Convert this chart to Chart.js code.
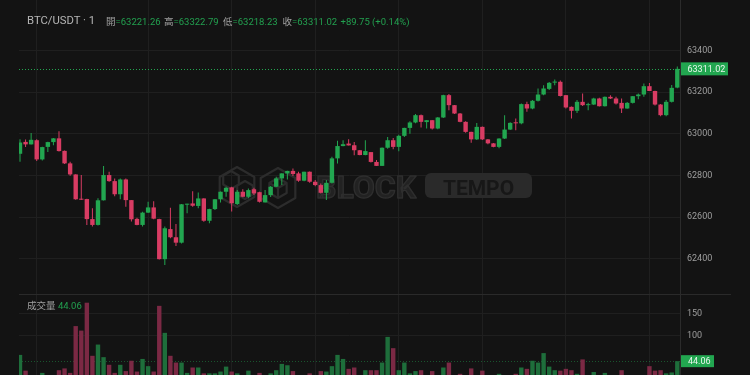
<!DOCTYPE html>
<html><head><meta charset="utf-8">
<script src="https://cdn.jsdelivr.net/npm/chart.js@4/dist/chart.umd.min.js"></script>
<style>
html,body{margin:0;padding:0;background:#131313;}
#wrap{position:relative;width:750px;height:375px;overflow:hidden;background:#131313;font-family:Roboto,"Noto Sans CJK TC",sans-serif;}
canvas{position:absolute;left:0;}
#cp{top:0}
#cv{top:294px}
.t{position:absolute;white-space:nowrap;line-height:14px;}
.g{color:#22a04f}
.l{color:#a0a0a0}
</style></head><body>
<div id="wrap">
<canvas id="cp" width="750" height="294"></canvas>
<canvas id="cv" width="750" height="81"></canvas>
<div class="t" style="left:27px;top:14px;font-size:11.3px;color:#b4b4b4">BTC/USDT · 1</div>
<div class="t" style="left:106px;top:14.5px;font-size:9.5px"><span class="l">開</span><span class="g">=63221.26</span></div>
<div class="t" style="left:164px;top:14.5px;font-size:9.5px"><span class="l">高</span><span class="g">=63322.79</span></div>
<div class="t" style="left:223px;top:14.5px;font-size:9.5px"><span class="l">低</span><span class="g">=63218.23</span></div>
<div class="t" style="left:282.5px;top:14.5px;font-size:9.5px"><span class="l">收</span><span class="g">=63311.02</span></div>
<div class="t g" style="left:340.5px;top:14.5px;font-size:9.5px">+89.75 (+0.14%)</div>
<div class="t" style="left:27px;top:299px;font-size:9.5px"><span class="l">成交量</span> <span class="g">44.06</span></div>
</div>
<script>
const opens  = [62904,62961,62949,62969,62877,62937,62960,62978,62918,62858,62805,62686,62687,62591,62563,62681,62802,62773,62710,62781,62682,62592,62563,62622,62647,62591,62399,62543,62504,62478,62660,62666,62654,62690,62583,62639,62686,62722,62743,62663,62722,62698,62734,62720,62671,62706,62746,62786,62810,62822,62810,62775,62818,62770,62754,62717,62765,62882,62941,62953,62945,62921,62898,62912,62865,62846,62933,62969,62937,62990,63028,63054,63089,63056,63065,63025,63078,63185,63137,63097,63057,63009,62973,63033,62973,62954,62937,62977,63020,63054,63050,63142,63121,63158,63188,63215,63245,63249,63185,63129,63110,63153,63137,63140,63169,63132,63177,63169,63148,63121,63148,63180,63188,63228,63205,63140,63089,63153,63221.26];
const highs  = [62974,62973,63003,62974,62938,62962,62980,63012,62920,62866,62806,62802,62688,62643,62691,62846,62818,62786,62785,62785,62683,62598,62626,62674,62677,62593,62555,62645,62567,62663,62665,62725,62719,62691,62640,62687,62723,62746,62746,62730,62734,62738,62741,62722,62730,62750,62794,62811,62823,62834,62818,62818,62819,62778,62762,62778,62890,62966,62969,62974,62961,62922,62969,62913,62874,62934,62985,62980,62995,63029,63060,63095,63092,63066,63066,63080,63187,63190,63138,63100,63060,63010,63052,63035,62975,62956,62979,63089,63055,63073,63145,63153,63162,63217,63233,63248,63260,63255,63186,63130,63162,63193,63148,63172,63172,63178,63185,63177,63169,63152,63181,63193,63241,63243,63206,63142,63162,63234,63322.79];
const lows   = [62866,62937,62949,62870,62872,62913,62945,62915,62855,62799,62684,62682,62563,62555,62560,62680,62770,62701,62686,62650,62579,62561,62555,62620,62590,62397,62371,62499,62462,62474,62619,62650,62643,62578,62571,62634,62671,62698,62627,62658,62696,62691,62706,62671,62670,62697,62745,62754,62781,62797,62770,62772,62765,62748,62714,62682,62762,62858,62940,62944,62897,62897,62897,62862,62845,62845,62928,62926,62916,62985,63000,63050,63030,63025,63020,63022,63075,63113,63095,63055,63005,62957,62970,62970,62950,62935,62930,62975,63018,63017,63045,63105,63118,63155,63185,63210,63233,63178,63121,63073,63100,63133,63113,63138,63130,63130,63166,63140,63100,63120,63145,63165,63177,63205,63135,63084,63084,63150,63218.23];
const closes = [62958,62949,62971,62877,62936,62960,62978,62917,62858,62805,62686,62684,62591,62563,62681,62802,62773,62710,62781,62682,62590,62563,62622,62647,62593,62399,62547,62504,62478,62662,62664,62655,62690,62583,62639,62686,62722,62741,62667,62722,62698,62730,62714,62674,62706,62746,62786,62810,62822,62807,62775,62818,62770,62754,62717,62765,62882,62941,62950,62944,62921,62898,62917,62865,62846,62933,62969,62937,62990,63028,63054,63089,63057,63065,63025,63078,63185,63137,63097,63057,63009,62973,63033,62973,62954,62937,62977,63020,63052,63050,63142,63121,63158,63188,63217,63244,63250,63181,63126,63110,63153,63137,63140,63169,63132,63177,63169,63145,63121,63148,63180,63188,63228,63205,63140,63089,63153,63220,63311.02];
const volumes = [58,23,8,10,18,9,7,24,28,18,122,112,174,56,81,53,36,18,36,22,45,21,49,33,21,167,107,56,41,41,18,30,30,17,17,17,21,32,21,17,10,23,10,18,9,17,24,38,35,22,10,10,17,10,22,21,33,58,49,27,30,10,24,24,24,41,98,73,24,41,17,22,24,10,22,10,30,41,10,16,10,28,10,23,10,9,16,10,12,16,30,27,45,41,62,32,24,23,27,24,16,48,10,20,10,18,10,9,24,10,9,11,12,33,23,24,17,19,44.06];
const priceTicks = [62400,62600,62800,63000,63200,63400];
const volTicks = [100,150];
const gridIdx = [3,23,38,53,68,83,98,113];

const UP='#22a650', DN='#d83c63', VUP='#1e6e3b', VDN='#7b2944';
const GRID='#1f1f1f', AXIS='#2b2b2b', LBL='#9e9e9e';
const last = closes.length-1;
const up = closes.map((c,i)=>c>=opens[i]);
const cCol = up.map(u=>u?UP:DN);
const vCol = up.map(u=>u?VUP:VDN);
const bodyData = closes.map((c,i)=>({x:i,y:[opens[i],c]}));
const wickData = closes.map((c,i)=>({x:i,y:[lows[i],highs[i]]}));
const volData = volumes.map((v,i)=>({x:i,y:v}));

const X_MIN=-0.1795, X_MAX=118.486;
function xScale(){return {type:'linear',min:X_MIN,max:X_MAX,offset:false,
  grid:{color:GRID,drawTicks:false,offset:false},border:{display:false},ticks:{display:false},
  afterBuildTicks:s=>{s.ticks=gridIdx.map(v=>({value:v}));},
  afterFit:s=>{s.height=0;}};}
function yScale(min,max,tk){return {type:'linear',position:'right',min:min,max:max,
  grid:{color:GRID,drawTicks:false},border:{display:true,color:AXIS},
  ticks:{color:LBL,padding:7,autoSkip:false,font:{size:9,family:'Roboto'},callback:v=>String(v)},
  afterBuildTicks:s=>{s.ticks=tk.map(v=>({value:v}));},
  afterFit:s=>{s.width=70;s.paddingTop=0;s.paddingBottom=0;}};}

function hex(ctx,cx,cy,r){ctx.beginPath();for(let k=0;k<6;k++){const a=(-90+60*k)*Math.PI/180;const px=cx+r*Math.cos(a),py=cy+r*Math.sin(a);k?ctx.lineTo(px,py):ctx.moveTo(px,py);}ctx.closePath();ctx.stroke();}
function ylines(ctx,cx,cy,r){ctx.beginPath();for(const d of [90,210,330]){const a=d*Math.PI/180;ctx.moveTo(cx,cy);ctx.lineTo(cx+r*Math.cos(a),cy+r*Math.sin(a));}ctx.stroke();}

const watermark={id:'wm',beforeDatasetsDraw(c){const ctx=c.ctx;ctx.save();
  ctx.strokeStyle='#2c2c2c';ctx.lineWidth=2.2;ctx.lineJoin='round';
  hex(ctx,237,187,20);hex(ctx,231,180,9);hex(ctx,245,190,9);
  hex(ctx,278,188,20);hex(ctx,278,188,10);ylines(ctx,278,188,10);
  ctx.font='bold 32px Roboto';ctx.textBaseline='alphabetic';ctx.textAlign='left';
  ctx.fillStyle='#222222';ctx.fillText('BLOCK',316,198);
  ctx.lineWidth=1.4;ctx.strokeStyle='#2e2e2e';ctx.strokeText('BLOCK',316,198);
  ctx.fillStyle='#2a2a2a';ctx.beginPath();ctx.roundRect(425,173,107,25,6);ctx.fill();
  ctx.font='bold 21px Roboto';ctx.textAlign='center';ctx.fillStyle='#171717';ctx.fillText('TEMPO',478.5,194.5);
  ctx.restore();
  const y=Math.round(c.scales.y.getPixelForValue(closes[last]))+0.5;
  ctx.save();ctx.strokeStyle=UP;ctx.lineWidth=1;ctx.setLineDash([1,2]);
  ctx.beginPath();ctx.moveTo(c.chartArea.left,y);ctx.lineTo(c.chartArea.right,y);ctx.stroke();ctx.restore();
},afterDraw(c){const ctx=c.ctx;const y=c.scales.y.getPixelForValue(closes[last]);
  ctx.save();ctx.fillStyle='#22a650';ctx.fillRect(681,y-6.5,47,13);
  ctx.fillStyle='#eaf6ee';ctx.font='9px Roboto';ctx.textBaseline='middle';ctx.textAlign='left';
  ctx.fillText(closes[last].toFixed(2),687.5,y+0.5);ctx.restore();}};

const volPlug={id:'vp',beforeDatasetsDraw(c){const ctx=c.ctx;const y=Math.round(c.scales.y.getPixelForValue(volumes[last]))+0.5;
  ctx.save();ctx.strokeStyle='rgba(34,166,80,0.45)';ctx.lineWidth=1;ctx.setLineDash([1,2]);
  ctx.beginPath();ctx.moveTo(c.chartArea.left,y);ctx.lineTo(c.chartArea.right,y);ctx.stroke();ctx.restore();
},afterDraw(c){const ctx=c.ctx;ctx.save();
  ctx.strokeStyle='#2a2a2a';ctx.lineWidth=1;ctx.beginPath();ctx.moveTo(19,0.5);ctx.lineTo(731,0.5);ctx.stroke();
  const y=c.scales.y.getPixelForValue(volumes[last]);
  ctx.fillStyle='#22a650';ctx.fillRect(681,y-6,33,12);
  ctx.fillStyle='#eaf6ee';ctx.font='9px Roboto';ctx.textBaseline='middle';ctx.textAlign='left';
  ctx.fillText(volumes[last].toFixed(2),688,y+0.5);ctx.restore();}};

const common={responsive:false,animation:false,devicePixelRatio:1,events:[],
  layout:{padding:{left:19,right:0,top:0,bottom:0}},
  plugins:{legend:{display:false},tooltip:{enabled:false}}};

new Chart(document.getElementById('cp'),{type:'bar',
  data:{datasets:[
    {data:bodyData,backgroundColor:cCol,barThickness:4.4,grouped:false,minBarLength:1,inflateAmount:0},
    {data:wickData,backgroundColor:cCol,barThickness:1,grouped:false,inflateAmount:0}]},
  options:Object.assign({},common,{scales:{x:xScale(),y:yScale(62232,63641,priceTicks)}}),
  plugins:[watermark]});

new Chart(document.getElementById('cv'),{type:'bar',
  data:{datasets:[{data:volData,backgroundColor:vCol,barThickness:4.4,grouped:false,inflateAmount:0}]},
  options:Object.assign({},common,{scales:{x:xScale(),y:yScale(13.33,193.33,volTicks)}}),
  plugins:[volPlug]});
</script>
</body></html>
